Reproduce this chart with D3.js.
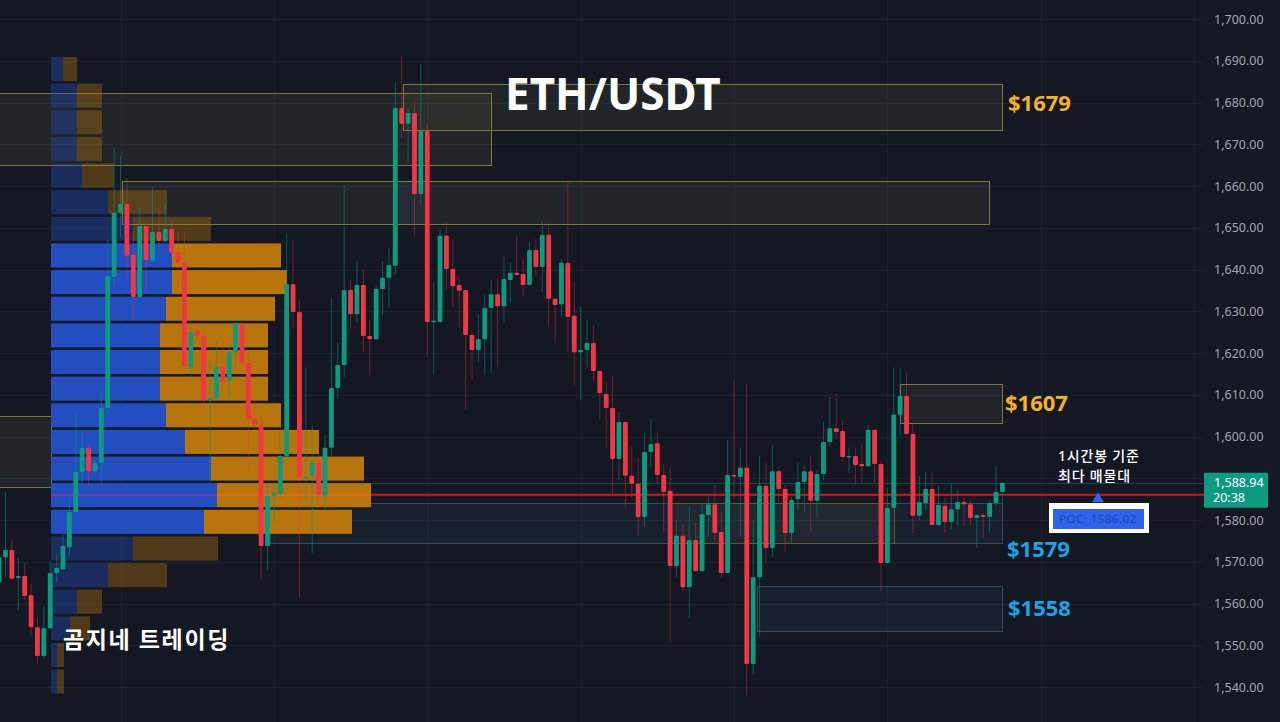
<!DOCTYPE html>
<html>
    <head>
        <meta charset="utf-8">
        <script src="https://d3js.org/d3.v7.min.js"></script>
        <style>
            html, body { margin: 0; padding: 0; background: #141823; overflow: hidden; }
        </style>
    </head>
    <body>
        <script>
            // hourly candles, oldest first
            const opens = [1565.1,1571.1,1572.8,1566.1,1566.6,1562,1554.3,1547.4,1554.1,1567.3,1568.2,1573.5,1581.9,1591.5,1597.3,1591.7,1593.7,1606.8,1638.2,1653.6,1655.7,1643.5,1633.4,1650.4,1642.1,1649,1646.8,1649.7,1644.2,1641.6,1616.6,1625.3,1624.1,1608.7,1609.2,1616.6,1613.3,1620.2,1626.7,1617.6,1604.2,1602.8,1573.8,1585.8,1586.2,1595.3,1636.5,1629.8,1590.1,1590.6,1593.7,1585.8,1597.3,1611.6,1617.1,1635.1,1629.3,1636.3,1624.1,1623.3,1635.3,1638,1640.9,
                1678.7,1674.9,1677.5,1658.1,1673.2,1627.4,1627.4,1648.1,1640.1,1636.3,1635.1,1624.3,1620.7,1623.3,1630.8,1634.1,1631.2,1637.5,1639.2,1638.9,1636.3,1644.7,1640.6,1648.3,1633,1631.7,1641.6,1628.9,1620.2,1620.7,1622.4,1615.7,1610.2,1606.8,1594.6,1603.5,1590.6,1588.7,1580.7,1596.3,1598.4,1590.8,1587,1569,1576.2,1563.9,1575.2,1567.8,1581.2,1583.8,1577.1,1567.3,1590.8,1590.3,1592.5,1545.5,1566.3,1588.2,1573.3,1591.7,1587.4,1576.9,1585,1589.1,1591.7,1584.6,1591,1598.7,1602,1601.3,1595.1,1595.3,1593.4,1592.9,1601.6,1593.4,1569.7,1582.9,1605.2,1609.7,1600.6,1581,1584.1,1587.4,1578.8,1583.4,1579.5,1582.6,1584.3,1583.8,1580.5,1581.2,1580.7,1584.1,1586.7];
            const highs = [1573.3,1586.7,1575.4,1571.1,1569.7,1564.6,1556.7,1559.4,1570.4,1572.1,1576.6,1584.8,1605.9,1601.6,1598,1594.4,1610.4,1647.1,1669.3,1667.2,1661.9,1648.8,1654.8,1651.1,1659.7,1654.8,1655.9,1651.9,1649,1649,1627.4,1627.4,1625.5,1618.3,1623.1,1623.1,1621.9,1627.4,1627.4,1620.2,1608.7,1605.2,1588.9,1588.4,1601.6,1648.8,1647.1,1632.7,1616.6,1602.8,1597.5,1600.4,1633.4,1622.4,1660.2,1637.5,1642,1639.9,1627.9,1636.1,1642,1645.2,1684.9,
                1691.1,1678.7,1680.4,1689.2,1675.1,1636.8,1649.5,1651.4,1647.1,1638.2,1635.1,1625,1629.1,1633.9,1637.5,1638,1643.2,1641.6,1648.3,1643,1646.6,1647.3,1651.6,1651.1,1633.2,1642.5,1660.7,1637,1631,1627.9,1626.7,1615.7,1613,1614.5,1605.9,1603.5,1597.5,1594.8,1600.9,1604.2,1600.9,1593.4,1592.7,1580,1579,1583.1,1579.5,1584,1585.7,1588.4,1581.9,1599.2,1613.5,1597.3,1612.6,1580,1595.3,1593.7,1598,1592.7,1588.4,1585.5,1593.7,1593,1595.3,1592,1603.5,1609.5,1610.4,1603.9,1597.3,1597.3,1598.4,1602.8,1601.6,1594.1,1587.7,1616.6,1616.4,1615.4,1603.2,1590.6,1591.5,1591.5,1588.2,1585.3,1588.9,1587.2,1585.3,1584.8,1581.2,1581.7,1584.8,1592.7,1588.9];
            const lows = [1562.7,1566.3,1565.6,1558.4,1560.8,1552.4,1545.7,1546.7,1554,1564.9,1568,1571.1,1581.9,1588.9,1588,1591.3,1588.4,1605.2,1635.8,1647.8,1637.5,1627.9,1633.4,1634.6,1641.6,1645.4,1646.6,1642.8,1635.8,1615.9,1614,1623.1,1606.3,1588.9,1608.7,1610,1609.2,1615.9,1615.9,1592,1601.6,1565.6,1568,1579.3,1585.3,1594.4,1626.2,1561.5,1584.1,1572.1,1584.1,1582.4,1595.3,1609,1614.2,1625.8,1627.4,1620.2,1614.7,1623.1,1629.1,1630.8,1638.7,
                1671.5,1665.7,1648.1,1655,1619,1614.7,1627.2,1635.1,1631,1626.2,1606.3,1613.5,1617.8,1614.7,1615.2,1616.6,1627.2,1632,1638.7,1633.6,1636.3,1638.2,1634.6,1626.2,1622.4,1628.6,1620.2,1612.3,1608.7,1616.6,1613.5,1603.9,1597.3,1586,1589.6,1582.9,1585.3,1576.2,1578.3,1592.7,1588.9,1576.9,1550.8,1566.3,1562.7,1556.5,1567.5,1567.5,1576,1574.7,1566.1,1567.3,1585.3,1576,1538,1542.9,1552,1569.7,1571.1,1584.1,1572.3,1574.5,1582.4,1581.9,1577.1,1580.7,1589.6,1597.5,1599.4,1593.9,1591.3,1588.4,1588.9,1592.7,1588.9,1563,1569.7,1582.9,1600.1,1600.4,1576.9,1580,1582.4,1578.8,1578.6,1576.9,1577.6,1578.6,1578.6,1578.6,1573.3,1575.7,1576.9,1583.6,1583.9];
            const closes = [1571.1,1572.8,1565.9,1566.6,1561.8,1554.3,1547.4,1554.1,1567.3,1568.5,1573.8,1581.9,1591.5,1597.3,1591.7,1593.7,1606.8,1638.4,1653.6,1655.7,1643.3,1633.4,1650.4,1642.3,1649,1646.8,1649.7,1644,1641.8,1616.9,1625,1624.1,1608.7,1609.2,1616.6,1613,1620.2,1627.2,1617.6,1604.2,1602.8,1573.8,1585.8,1586.5,1595.3,1636.5,1629.8,1590.1,1590.3,1593.7,1586,1597.3,1611.6,1617.1,1635.1,1629.3,1636.3,1624.1,1623.3,1635.3,1638,1641.1,1678.7,
                1674.9,1677.5,1658.1,1673.2,1627.4,1627.7,1648.1,1640.1,1636,1634.9,1624.3,1620.7,1623.3,1630.8,1634.1,1631.2,1637.7,1639.2,1638.7,1636.3,1644.7,1640.6,1648.3,1633,1631.5,1641.6,1628.6,1620.2,1620.7,1622.4,1615.7,1610.4,1606.8,1594.6,1603.5,1590.6,1588.7,1580.7,1596.3,1598.2,1590.8,1586.7,1569,1576.2,1563.9,1575.2,1567.8,1581.4,1583.8,1576.9,1567.3,1590.8,1590.6,1592.5,1545.5,1566.3,1588.2,1573.3,1591.7,1587.4,1576.9,1584.8,1589.1,1591.7,1584.6,1591,1598.7,1602,1601.1,1595.1,1595.3,1593.2,1592.9,1601.6,1593.4,1569.7,1582.9,1605.2,1609.7,1600.6,1581,1584.3,1587.4,1578.8,1583.6,1579.5,1582.6,1584.3,1583.8,1580.5,1581.2,1580.7,1584.1,1586.7,1588.9];

            // volume profile, top row first
            const buyVolume = [12,26,26,26,31,57,82,121,121,115,109,109,109,115,134,160,166,153,82,57,26,19,6,6];
            const sellVolume = [14,25,25,25,32,59,78,109,115,109,108,108,108,115,134,153,154,148,85,59,25,20,7,7];
            const valueAreaRows = [7,8,9,10,11,12,13,14,15,16,17];
            const profileTop = 1690.9, profileStep = 6.38;

            const priceTicks = [1700,1690,1680,1670,1660,1650,1640,1630,1620,1610,1600,1590,1580,1570,1560,1550,1540];
            const gridCandles = [19,43,67,91,115,139,163,187];

            // zones: left candle, right candle, top price, bottom price
            const yellowZones = [[-2,77.1,1682.3,1665.1],[63.2,157,1684.4,1673.5],[19.2,154.9,1661.2,1650.9],[-2,8.1,1604.9,1587.9],[141,157,1612.6,1603.2]];
            const blueZones = [[42.4,157,1584.1,1574.5],[118.6,157,1564.2,1553.4]];
            const innerYellowZones = [[105.1,140,1584.1,1574.5]];
            const faintZones = [[62.4,67,1661.2,1650.9]];

            const pocPrice = 1586.02;
            const lastPrice = 1588.94;
            const countdown = "20:38";

            const sideLabels = [["$1679",1008,1679,"#f5b324"],["$1607",1005,1607,"#f5b324"],["$1579",1007,1572,"#1fa2e0"],["$1558",1008,1558,"#1fa2e0"]];

            const width = 1280, height = 722;
            const fontName = "'Noto Sans','Noto Sans CJK KR',sans-serif";

            let svg = d3.select("body")
                .append("svg")
                .attr("width", width)
                .attr("height", height)
                .style("display", "block")
                .style("background-color", "#141823")
                .style("font-family", fontName);

            let x = d3.scaleLinear().domain([0, opens.length - 1]).range([-0.9, 1002.4]);
            let y = d3.scaleLinear().domain([1700, 1540]).range([19, 687]);
            let bandHeight = y(1700 - profileStep) - y(1700);
            let volumeX = d3.scaleLinear().domain([0, 320]).range([51, 371]);
            let crisp = v => Math.round(v) + 0.5;

            // grid
            let grid = svg.append("g");
            grid.selectAll(".h").data(priceTicks).enter().append("line")
                .attr("x1", 0).attr("x2", 1203)
                .attr("y1", d => crisp(y(d))).attr("y2", d => crisp(y(d)))
                .attr("stroke", "#1c2130");
            grid.selectAll(".v").data(gridCandles).enter().append("line")
                .attr("x1", d => crisp(x(d))).attr("x2", d => crisp(x(d)))
                .attr("y1", 0).attr("y2", height)
                .attr("stroke", "#1b202e");

            // zones
            let drawZones = (zones, stroke, fill) => {
                svg.append("g").selectAll("rect").data(zones).enter().append("rect")
                    .attr("x", d => crisp(x(d[0])))
                    .attr("y", d => crisp(y(d[2])))
                    .attr("width", d => Math.round(x(d[1]) - x(d[0])))
                    .attr("height", d => Math.round(y(d[3]) - y(d[2])))
                    .attr("fill", fill)
                    .attr("stroke", stroke);
            };
            drawZones(blueZones, "#34495c", "rgba(80,130,190,0.07)");
            drawZones(innerYellowZones, "#5c5a30", "rgba(200,190,100,0.05)");
            drawZones(yellowZones, "#7d7838", "rgba(215,205,120,0.07)");
            drawZones(faintZones, "none", "rgba(80,130,190,0.08)");

            // faint line at last price
            svg.append("line")
                .attr("x1", 51).attr("x2", 1203)
                .attr("y1", crisp(y(lastPrice))).attr("y2", crisp(y(lastPrice)))
                .attr("stroke", "#20404a");

            // red poc line sits below the profile
            svg.append("line")
                .attr("x1", 371).attr("x2", 1204)
                .attr("y1", y(pocPrice)).attr("y2", y(pocPrice))
                .attr("stroke", "#d3131c").attr("stroke-width", 2);

            // volume profile
            let rows = svg.append("g").selectAll("g").data(buyVolume).enter().append("g")
                .attr("opacity", (d, i) => valueAreaRows.includes(i) ? 0.95 : 0.35);
            rows.append("rect")
                .attr("x", volumeX(0))
                .attr("y", (d, i) => y(profileTop - i * profileStep))
                .attr("width", d => volumeX(d) - volumeX(0))
                .attr("height", bandHeight - 2.6)
                .attr("fill", "#2451c9");
            rows.append("rect")
                .attr("x", (d) => volumeX(d))
                .attr("y", (d, i) => y(profileTop - i * profileStep))
                .attr("width", (d, i) => volumeX(sellVolume[i]) - volumeX(0))
                .attr("height", bandHeight - 2.6)
                .attr("fill", "#c07a0b");

            // poc line over the profile row
            let pocRow = 16;
            svg.append("line")
                .attr("x1", volumeX(0)).attr("x2", volumeX(buyVolume[pocRow]))
                .attr("y1", y(pocPrice)).attr("y2", y(pocPrice))
                .attr("stroke", "#6d3fae").attr("stroke-width", 2);
            svg.append("line")
                .attr("x1", volumeX(buyVolume[pocRow])).attr("x2", 371)
                .attr("y1", y(pocPrice)).attr("y2", y(pocPrice))
                .attr("stroke", "#f0690f").attr("stroke-width", 2);

            // candles
            let candles = svg.append("g").selectAll("g").data(opens).enter().append("g");
            candles.append("line")
                .attr("x1", (d, i) => x(i)).attr("x2", (d, i) => x(i))
                .attr("y1", (d, i) => y(highs[i]))
                .attr("y2", (d, i) => y(lows[i]))
                .attr("stroke", (d, i) => closes[i] >= d ? "rgba(8,153,129,0.5)" : "rgba(242,54,69,0.4)");
            candles.append("rect")
                .attr("x", (d, i) => x(i) - 2.4)
                .attr("width", 4.8)
                .attr("rx", 1)
                .attr("y", (d, i) => y(Math.max(d, closes[i])))
                .attr("height", (d, i) => Math.max(1.5, Math.abs(y(d) - y(closes[i]))))
                .attr("fill", (d, i) => closes[i] >= d ? "#0c9a80" : "#f23645");

            // price axis
            let axis = svg.append("g")
                .attr("transform", "translate(1204,0)")
                .call(d3.axisRight(y).tickValues(priceTicks).tickSize(0).tickPadding(10).tickFormat(d3.format(",.2f")));
            axis.select(".domain").remove();
            axis.selectAll("text")
                .attr("fill", "#a1a5af")
                .style("font-family", fontName)
                .style("font-size", "12.5px");

            // last price tag
            let tag = svg.append("g").attr("transform", `translate(1204,${y(lastPrice)})`);
            tag.append("rect").attr("x", 0).attr("y", -10).attr("width", 64).attr("height", 35).attr("rx", 1).attr("fill", "#0c9a80");
            tag.append("text").text(d3.format(",.2f")(lastPrice))
                .attr("x", 10).attr("y", 4).attr("fill", "#fff").style("font-size", "12.5px");
            tag.append("text").text(countdown)
                .attr("x", 9).attr("y", 19).attr("fill", "#fff").style("font-size", "12.5px");

            // poc marker and label
            svg.append("path")
                .attr("d", d3.symbol().type(d3.symbolTriangle).size(60)())
                .attr("transform", `translate(1098,${y(pocPrice) + 4})`)
                .attr("fill", "#2f63ee");
            svg.append("rect").attr("x", 1049).attr("y", 503).attr("width", 100).attr("height", 30).attr("fill", "#fff");
            svg.append("rect").attr("x", 1053).attr("y", 509).attr("width", 91).attr("height", 20).attr("fill", "#2f63ee");
            svg.append("text").text("POC: " + pocPrice)
                .attr("x", 1059).attr("y", 523)
                .attr("fill", "#1f459f")
                .style("font-size", "11.5px")
                .style("letter-spacing", "0.5px");

            // labels
            svg.append("g").selectAll("text").data(sideLabels).enter().append("text")
                .text(d => d[0])
                .attr("x", d => d[1])
                .attr("y", d => y(d[2]) + 4)
                .attr("fill", d => d[3])
                .style("font-size", "22px")
                .style("font-weight", "700");

            svg.append("text").text("ETH/USDT")
                .attr("x", 505).attr("y", 109.5)
                .attr("fill", "#fff")
                .style("font-size", "44px")
                .style("font-weight", "700");

            svg.append("text").text("곰지네 트레이딩")
                .attr("x", 63).attr("y", 648)
                .attr("fill", "#fff")
                .style("font-size", "23px")
                .style("font-weight", "700")
                .style("letter-spacing", "1.6px");

            svg.append("text").text("1시간봉 기준")
                .attr("x", 1058).attr("y", 461)
                .attr("fill", "#fff")
                .style("font-size", "14px")
                .style("font-weight", "500")
                .style("letter-spacing", "0.8px");
            svg.append("text").text("최다 매물대")
                .attr("x", 1058).attr("y", 481)
                .attr("fill", "#fff")
                .style("font-size", "14px")
                .style("font-weight", "500")
                .style("letter-spacing", "0.8px");
        </script>
    </body>
</html>
